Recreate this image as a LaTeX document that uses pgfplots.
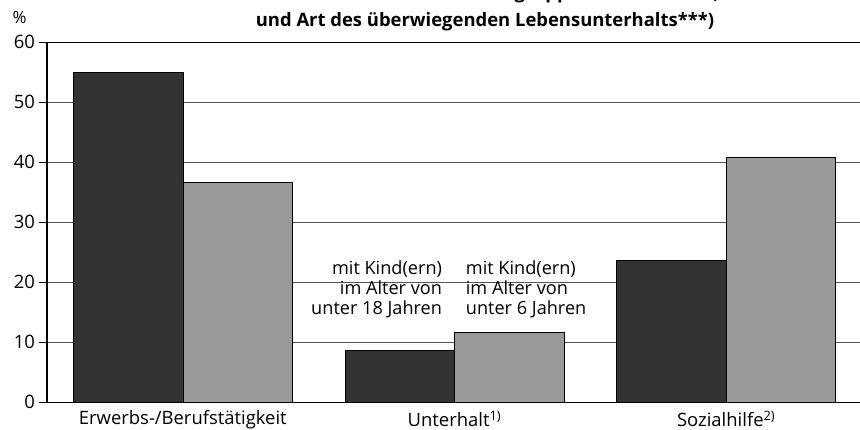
\documentclass[border=0pt]{standalone}
\usepackage{fontspec}
\setmainfont{Open Sans}
\usepackage{pgfplots}
\pgfplotsset{compat=1.18}
\definecolor{dunkel}{HTML}{333333}
\definecolor{hell}{HTML}{999999}
\definecolor{gitter}{HTML}{555555}

\begin{document}
\begin{tikzpicture}
\useasboundingbox (0,0) rectangle (860bp,430bp);
% Titel (erste Zeile oben abgeschnitten wie im Original)
\node[font=\bfseries\fontsize{18.5}{21}\selectfont, anchor=base] at (485bp,431bp)
  {Alleinerziehende nach Altersgruppen der Kinder**)};
\node[font=\bfseries\fontsize{18.5}{21}\selectfont, anchor=base] at (485bp,403bp)
  {und Art des überwiegenden Lebensunterhalts***)};
\node[font=\fontsize{17}{18}\selectfont, anchor=base] at (19.5bp,406bp) {\%};
\begin{axis}[
  at={(47bp,27.7bp)}, anchor=south west,
  scale only axis, width=815bp, height=360bp,
  xmin=-0.5, xmax=2.5, ymin=0, ymax=60,
  axis x line=box, axis y line=left,
  x axis line style={-, line width=1.4bp},
  y axis line style={-, line width=1.4bp},
  ytick={0,10,...,60},
  xtick={0,1,2},
  xticklabels={Erwerbs-/Berufstätigkeit, Unterhalt\textsuperscript{1)}, Sozialhilfe\textsuperscript{2)}},
  x tick style={draw=none},
  y tick style={line width=0.8bp, black},
  tick align=outside, major tick length=8bp,
  ymajorgrids, grid style={gitter, line width=0.8bp},
  /pgf/number format/assume math mode=true,
  tick label style={font=\fontsize{18.5}{21}\selectfont},
  yticklabel style={xshift=-0.5bp},
  xticklabel style={yshift=3bp},
  clip=false,
]
\addplot[ybar, bar width=0.403, bar shift=-0.2015, fill=dunkel, draw=black, line width=0.6bp]
  coordinates {(0,55.0) (1,8.7) (2,23.7)};
\addplot[ybar, bar width=0.403, bar shift=0.2015, fill=hell, draw=black, line width=0.6bp]
  coordinates {(0,36.6) (1,11.7) (2,40.8)};
\node[anchor=base east, align=right, font=\fontsize{18.2}{20}\selectfont]
  at (axis cs:0.967,14.7) {mit Kind(ern)\\im Alter von\\unter 18 Jahren};
\node[anchor=base west, align=left, font=\fontsize{18.2}{20}\selectfont]
  at (axis cs:1.029,14.7) {mit Kind(ern)\\im Alter von\\unter 6 Jahren};
\end{axis}
\end{tikzpicture}
\end{document}
